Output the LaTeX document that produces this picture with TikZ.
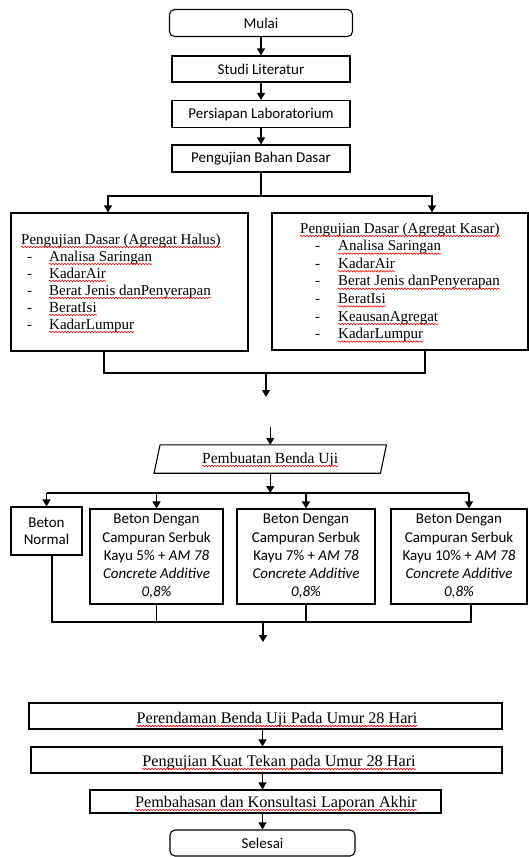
\documentclass[tikz,border=0pt]{standalone}
\usepackage{fontspec}
\setmainfont{Liberation Serif}
\newfontfamily\ffsans{Carlito}
\newfontfamily\ffserif{Liberation Serif}
\usetikzlibrary{arrows.meta,decorations.pathmorphing}
\begin{document}
\begin{tikzpicture}[x=1pt,y=-1pt,
  box/.style={draw, line width=1.1pt, inner sep=0pt, align=center,
    font=\ffsans\fontsize{15}{18.25}\selectfont},
  rbox/.style={box, rounded corners=5pt},
  ln/.style={line width=1.1pt},
  arr/.style={line width=1.1pt, -{Triangle[width=8pt,length=7pt]}},
  ser/.style={font=\ffserif\fontsize{15}{17}\selectfont, inner sep=0pt, anchor=base west},
  sert/.style={font=\ffserif\fontsize{15.5}{17}\selectfont, inner sep=0pt, anchor=base},
  serb/.style={font=\ffserif\fontsize{16.2}{17}\selectfont, inner sep=0pt, anchor=base},
  squig/.style={draw=red, line width=0.6pt, decorate,
    decoration={snake, amplitude=0.7pt, segment length=3pt}}]
\useasboundingbox (0,0) rectangle (529,857);

% top chain
\node[rbox, minimum width=183, minimum height=27] (mulai) at (261,23) {Mulai};
\node[box, minimum width=178, minimum height=26] (studi) at (261,69) {Studi Literatur};
\node[box, minimum width=178, minimum height=27] (pers) at (261,114) {Persiapan Laboratorium};
\node[box, minimum width=178, minimum height=27] (pbd) at (261,158.5) {Pengujian Bahan Dasar};
\draw[arr] (mulai.south) -- (studi.north);
\draw[arr] (studi.south) -- (pers.north);
\draw[arr] (pers.south) -- (pbd.north);

% aggregate boxes
\node[box, minimum width=237, minimum height=138] (halus) at (129.5,282) {};
\node[box, minimum width=256, minimum height=137] (kasar) at (400,281.5) {};
\coordinate (j1) at (261,196);
\draw[ln] (pbd.south) -- (j1);
\draw[arr] (j1) -| ([xshift=-21.5pt]halus.north);
\draw[arr] (j1) -| ([xshift=32pt]kasar.north);

\node[ser] (h0) at (21,244) {Pengujian Dasar (Agregat Halus)};
\draw[squig] ([yshift=-3pt]h0.base west) -- ([yshift=-3pt]h0.base east);
\foreach \t [count=\i] in {Analisa Saringan, KadarAir, Berat Jenis danPenyerapan, BeratIsi, KadarLumpur}{
  \node[ser] (hd\i) at (27,{244+17*\i}) {-};
  \node[ser] (h\i) at (49,{244+17*\i}) {\t};
  \draw[squig] ([yshift=-3pt]h\i.base west) -- ([yshift=-3pt]h\i.base east);
}
\node[ser] (k0) at (300,233) {Pengujian Dasar (Agregat Kasar)};
\draw[squig] ([yshift=-3pt]k0.base west) -- ([yshift=-3pt]k0.base east);
\foreach \t [count=\i] in {Analisa Saringan, KadarAir, Berat Jenis danPenyerapan, BeratIsi, KeausanAgregat, KadarLumpur}{
  \node[ser] (kd\i) at (315,{233+17.6*\i}) {-};
  \node[ser] (k\i) at (338,{233+17.6*\i}) {\t};
  \draw[squig] ([yshift=-3pt]k\i.base west) -- ([yshift=-3pt]k\i.base east);
}
\coordinate (j2) at (266,373);
\coordinate (a2) at (266,397);
\draw[ln] ([xshift=-25.5pt]halus.south) |- (j2) -| ([xshift=25pt]kasar.south);
\draw[arr] (j2) -- (a2);

% Pembuatan benda uji
\coordinate (a3) at (270.25,427);
\node[minimum width=226, minimum height=28, inner sep=0pt] (pbu) at (270.25,459) {};
\draw[ln] ([xshift=3pt]pbu.north west) -- ([xshift=3pt]pbu.north east)
  -- ([xshift=-3pt]pbu.south east) -- ([xshift=-3pt]pbu.south west) -- cycle;
\node[sert] (pbut) at (270.25,463) {Pembuatan Benda Uji};
\draw[squig] ([yshift=-3pt]pbut.base west) -- ([yshift=-3pt]pbut.base east);
\draw[arr] (a3) -- (pbu.north);
\coordinate (j3) at (270.25,493);
\draw[arr] (pbu.south) -- (j3);

% concrete variants
\node[box, minimum width=71, minimum height=48, font=\ffsans\fontsize{15}{16.7}\selectfont] (bn) at (46.5,531) {Beton\\Normal};
\node[box, minimum width=133, minimum height=95] (b5) at (156.5,556.5)
  {Beton Dengan\\Campuran Serbuk\\Kayu 5\% + \textit{AM 78}\\\textit{Concrete Additive}\\\textit{0,8\%}};
\node[box, minimum width=138, minimum height=95] (b7) at (306,556.5)
  {Beton Dengan\\Campuran Serbuk\\Kayu 7\% + \textit{AM 78}\\\textit{Concrete Additive}\\\textit{0,8\%}};
\node[box, minimum width=136, minimum height=95] (b10) at (459,556.5)
  {Beton Dengan\\Campuran Serbuk\\Kayu 10\% + \textit{AM 78}\\\textit{Concrete Additive}\\\textit{0,8\%}};
\draw[ln] (bn.north |- j3) -- ([xshift=10pt]b10.north |- j3);
\draw[arr] (bn.north |- j3) -- (bn.north);
\draw[arr] (b5.north |- j3) -- (b5.north);
\draw[arr] (b7.north |- j3) -- (b7.north);
\draw[arr] ([xshift=10pt]b10.north |- j3) -- ([xshift=10pt]b10.north);
\coordinate (j4) at (263,622);
\coordinate (a4) at (263,642);
\draw[ln] ([xshift=5.5pt]bn.south) |- (j4) -| ([xshift=12pt]b10.south);
\draw[ln] (b5.south) -- (b5.south |- j4);
\draw[ln] (b7.south) -- (b7.south |- j4);
\draw[arr] (j4) -- (a4);

% bottom chain
\node[box, minimum width=473, minimum height=26] (per) at (265.5,716) {};
\node[box, minimum width=471, minimum height=26] (kuat) at (266.5,760) {};
\node[box, minimum width=351, minimum height=23] (pemb) at (265.5,801.5) {};
\node[rbox, minimum width=185, minimum height=26] (sel) at (262.5,843) {Selesai};
\node[serb] (pert) at (277,723) {Perendaman Benda Uji Pada Umur 28 Hari};
\node[serb] (kuatt) at (279,766) {Pengujian Kuat Tekan pada Umur 28 Hari};
\node[serb] (pembt) at (276,807) {Pembahasan dan Konsultasi Laporan Akhir};
\foreach \n in {pert,kuatt,pembt}
  \draw[squig] ([yshift=-3pt]\n.base west) -- ([yshift=-3pt]\n.base east);
\draw[arr] (per.south -| sel.north) -- (kuat.north -| sel.north);
\draw[arr] (kuat.south -| sel.north) -- (pemb.north -| sel.north);
\draw[arr] (pemb.south -| sel.north) -- (sel.north);
\end{tikzpicture}
\end{document}
